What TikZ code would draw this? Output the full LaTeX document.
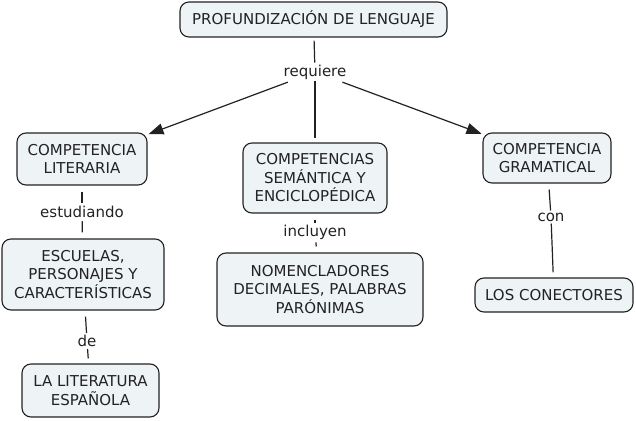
\documentclass[tikz,border=0pt]{standalone}
\usepackage{fontspec}
\setmainfont{DejaVu Sans}
\usetikzlibrary{arrows.meta}
\definecolor{boxfill}{HTML}{EEF3F6}
\definecolor{edge}{HTML}{222222}
\begin{document}
\begin{tikzpicture}[x=1pt,y=-1pt,
  box/.style={draw=edge, line width=1.1pt, rounded corners=9pt, fill=boxfill, align=center, inner sep=0pt, text=edge, font=\fontsize{15}{18.5}\selectfont},
  lbl/.style={inner sep=2pt, text=edge, font=\fontsize{15}{18}\selectfont},
  conn/.style={draw=edge, line width=1.2pt},
  arr/.style={conn, -{Triangle[length=15pt,width=11pt]}}]
\useasboundingbox (0,0) rectangle (636,420);
\fill[white] (0,0) rectangle (636,420);
\node[box, minimum width=267pt, minimum height=35pt] (top) at (313.5,19.5) {PROFUNDIZACIÓN DE LENGUAJE};
\node[lbl] (req) at (315,72) {requiere};
\node[box, minimum width=130pt, minimum height=52pt] (lit) at (82,159) {COMPETENCIA\\LITERARIA};
\node[box, minimum width=144pt, minimum height=70pt] (sem) at (315,178) {COMPETENCIAS\\SEMÁNTICA Y\\ENCICLOPÉDICA};
\node[box, minimum width=128pt, minimum height=50pt] (gram) at (547,158) {COMPETENCIA\\GRAMATICAL};
\node[lbl] (est) at (82,212) {estudiando};
\node[box, minimum width=162pt, minimum height=71pt] (esc) at (83,274.5) {ESCUELAS,\\PERSONAJES Y\\CARACTERÍSTICAS};
\node[lbl] (inc) at (315,232) {incluyen};
\node[box, minimum width=206pt, minimum height=73pt] (nom) at (320,289.5) {NOMENCLADORES\\DECIMALES, PALABRAS\\PARÓNIMAS};
\node[lbl] (con) at (551,217) {con};
\node[box, minimum width=158pt, minimum height=34pt] (conec) at (554,295) {LOS CONECTORES};
\node[lbl] (de) at (87,341) {de};
\node[box, minimum width=137pt, minimum height=53pt] (esp) at (90.5,390.5) {LA LITERATURA\\ESPAÑOLA};
\draw[conn, shorten <=3pt] (top) -- (req);
\draw[arr, shorten <=2pt, shorten >=1pt] (req) -- (lit);
\draw[conn, shorten >=4pt] (req) -- (sem);
\draw[arr, shorten <=2pt, shorten >=1pt] (req) -- (gram);
\draw[conn, shorten <=6pt, shorten >=1pt] (lit) -- (est);
\draw[conn, shorten <=1pt, shorten >=6pt] (est) -- (esc);
\draw[conn, shorten <=6pt, shorten >=0pt] (sem) -- (inc);
\draw[conn, shorten <=1pt, shorten >=6pt] (inc) -- (nom);
\draw[conn, shorten <=6pt] (gram) -- (con);
\draw[conn, shorten >=5pt] (con) -- (conec);
\draw[conn, shorten <=6pt] (esc) -- (de);
\draw[conn, shorten >=5pt] (de) -- (esp);
\end{tikzpicture}
\end{document}
